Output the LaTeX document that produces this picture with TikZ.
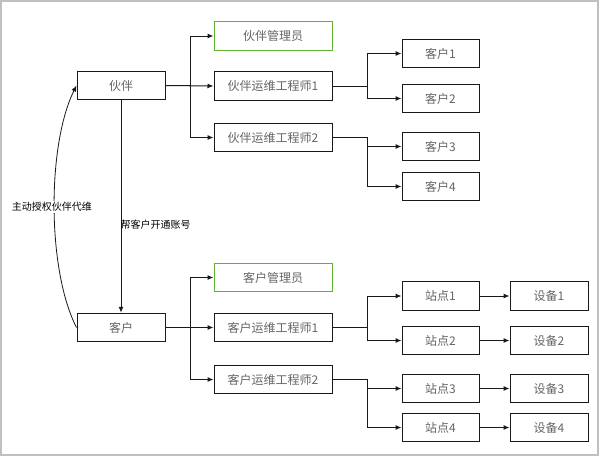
\documentclass[tikz,border=0pt]{standalone}
\usepackage{fontspec}
\setmainfont{Noto Sans CJK SC}
\usetikzlibrary{arrows.meta}
\definecolor{boxgreen}{RGB}{96,180,48}
\definecolor{txtgray}{RGB}{100,100,100}
\definecolor{framegray}{RGB}{192,192,192}
\begin{document}
\begin{tikzpicture}[x=1pt,y=-1pt,
  box/.style={draw=black!90, line width=1pt, inner sep=0pt, minimum height=28.5pt,
    font=\fontsize{12}{12}\selectfont, text=txtgray},
  leftbox/.style={box, minimum width=88pt},
  midbox/.style={box, minimum width=118pt},
  rightbox/.style={box, minimum width=77pt},
  devbox/.style={box, minimum width=78pt},
  greenbox/.style={midbox, draw=boxgreen},
  arr/.style={draw=black!90, line width=1pt, -{Latex[length=6pt,width=5pt]}},
  lbl/.style={font=\fontsize{10}{10}\selectfont, text=black, inner sep=1pt}
]
\useasboundingbox (0,0) rectangle (599,456);
\draw[framegray, line width=2pt] (1,1) rectangle (598,455);

% left
\node[leftbox] (p) at (121,85.5) {伙伴};
\node[leftbox] (c) at (121,327.5) {客户};

% middle
\node[greenbox] (pm) at (273,36) {伙伴管理员};
\node[midbox] (pe1) at (273,86) {伙伴运维工程师1};
\node[midbox] (pe2) at (273,137.5) {伙伴运维工程师2};
\node[greenbox] (cm) at (273,277.5) {客户管理员};
\node[midbox] (ce1) at (273,327.5) {客户运维工程师1};
\node[midbox] (ce2) at (273,379.5) {客户运维工程师2};

% right
\node[rightbox] (k1) at (440.5,53.5) {客户1};
\node[rightbox] (k2) at (440.5,98.5) {客户2};
\node[rightbox] (k3) at (440.5,146.5) {客户3};
\node[rightbox] (k4) at (440.5,186.5) {客户4};
\node[rightbox] (s1) at (440.5,296) {站点1};
\node[rightbox] (s2) at (440.5,340.5) {站点2};
\node[rightbox] (s3) at (440.5,388.5) {站点3};
\node[rightbox] (s4) at (440.5,427.5) {站点4};
\node[devbox] (d1) at (549,296) {设备1};
\node[devbox] (d2) at (549,340.5) {设备2};
\node[devbox] (d3) at (549,388.5) {设备3};
\node[devbox] (d4) at (549,427.5) {设备4};

% partner tree
\draw[arr] (p.east) -- ++(25,0) |- (pm.west);
\draw[arr] (p.east) -- (pe1.west);
\draw[arr] (p.east) -- ++(25,0) |- (pe2.west);
\draw[arr] (pe1.east) -- ++(35,0) |- (k1.west);
\draw[arr] (pe1.east) -- ++(35,0) |- (k2.west);
\draw[arr] (pe2.east) -- ++(35,0) |- (k3.west);
\draw[arr] (pe2.east) -- ++(35,0) |- (k4.west);

% customer tree
\draw[arr] (c.east) -- ++(25,0) |- (cm.west);
\draw[arr] (c.east) -- (ce1.west);
\draw[arr] (c.east) -- ++(25,0) |- (ce2.west);
\draw[arr] (ce1.east) -- ++(35,0) |- (s1.west);
\draw[arr] (ce1.east) -- ++(35,0) |- (s2.west);
\draw[arr] (ce2.east) -- ++(35,0) |- (s3.west);
\draw[arr] (ce2.east) -- ++(35,0) |- (s4.west);
\draw[arr] (s1) -- (d1);
\draw[arr] (s2) -- (d2);
\draw[arr] (s3) -- (d3);
\draw[arr] (s4) -- (d4);

% vertical arrow
\draw[arr] (p.south) -- (c.north)
  node[pos=0.587, anchor=west, lbl, xshift=-2pt] {帮客户开通账号};

% curved arrow
\draw[arr, line width=0.8pt] (c.west) .. controls (47,270) and (47,145) .. (p.west);
\node[lbl, fill=white] (auth) at (52,207) {主动授权伙伴代维};
\end{tikzpicture}
\end{document}
